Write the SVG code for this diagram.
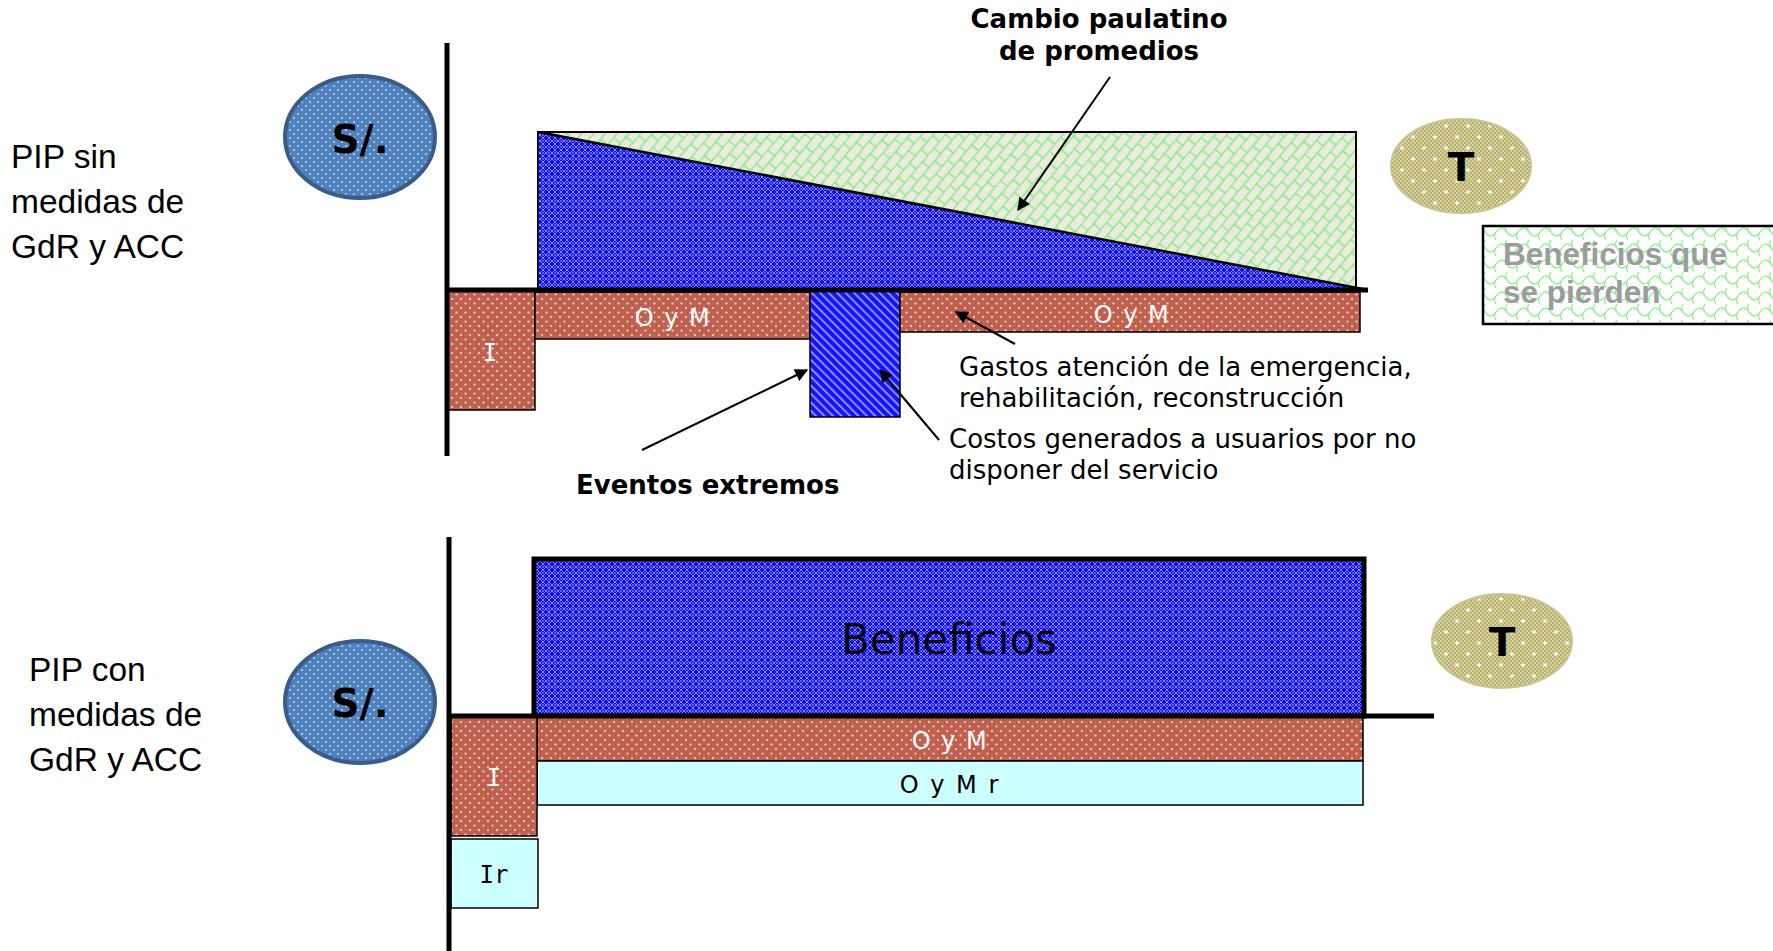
<svg xmlns="http://www.w3.org/2000/svg" width="1773" height="951" viewBox="0 0 1773 951">
<style>
.side{font-family:"Liberation Sans",Arial,sans-serif;font-size:33.5px;fill:#000}
.lbl{font-family:"DejaVu Sans",Verdana,sans-serif;font-size:26px;fill:#000}
.blbl{font-family:"DejaVu Sans",Verdana,sans-serif;font-size:26px;font-weight:bold;fill:#000}
.oym{font-family:"DejaVu Sans",Verdana,sans-serif;font-size:24px;fill:#fff;letter-spacing:1.5px;text-anchor:middle}
.oymr{font-family:"DejaVu Sans",Verdana,sans-serif;font-size:24px;fill:#000;letter-spacing:2px;text-anchor:middle}
.ii{font-family:"DejaVu Sans Mono",monospace;font-size:24px;text-anchor:middle}
.sym{font-family:"DejaVu Sans",Verdana,sans-serif;font-size:39px;font-weight:bold;fill:#000;text-anchor:middle}
.axis{stroke:#000;stroke-width:5;fill:none}
.box{stroke:#000;stroke-width:1.5}
.conn{stroke:#000;stroke-width:2;fill:none;marker-end:url(#ah)}
</style>
<defs>
<marker id="ah" viewBox="0 0 10 10" refX="9" refY="5" markerWidth="7.5" markerHeight="6.5" orient="auto" markerUnits="strokeWidth">
<path d="M0,0 L10,5 L0,10 z" fill="#000"/>
</marker>
<pattern id="pSol" width="8" height="8" patternUnits="userSpaceOnUse">
<rect width="8" height="8" fill="#4f81bd"/>
<circle cx="2" cy="2" r="1" fill="#c6d7ee"/>
<circle cx="6" cy="6" r="1" fill="#c6d7ee"/>
</pattern>
<pattern id="pBrown" width="9" height="9" patternUnits="userSpaceOnUse">
<rect width="9" height="9" fill="#c0614f"/>
<circle cx="2" cy="2" r="1.1" fill="#f6ddd6"/>
<circle cx="6.5" cy="6.5" r="1.1" fill="#f6ddd6"/>
</pattern>
<pattern id="pBlue" width="6" height="6" patternUnits="userSpaceOnUse">
<rect width="6" height="6" fill="#0a0aff"/>
<path d="M0,3 L3,0 L6,3 L3,6 Z" fill="none" stroke="#9a9aff" stroke-width="0.9"/>
<circle cx="3" cy="3" r="0.7" fill="#e0e0ff"/>
</pattern>
<pattern id="pStripe" width="6" height="6" patternUnits="userSpaceOnUse" patternTransform="rotate(-45)">
<rect width="6" height="6" fill="#1414ff"/>
<rect x="0" y="0" width="1.6" height="6" fill="#a8a8ff"/>
</pattern>
<pattern id="pBrick" width="18" height="18" patternUnits="userSpaceOnUse" patternTransform="rotate(-50)">
<rect width="18" height="18" fill="#eceadf"/>
<path d="M0,0.5 H18 M0,9.5 H18 M0.5,0 V9.5 M9.5,9.5 V18" stroke="#7eee7e" stroke-width="1.5" fill="none"/>
</pattern>
<pattern id="pWave" width="22" height="16" patternUnits="userSpaceOnUse">
<rect width="22" height="16" fill="#fff"/>
<path d="M0,8 Q5.5,0 11,8 Q16.5,16 22,8" stroke="#98f098" stroke-width="1.4" fill="none"/>
<path d="M11,0 Q8,4 11,8 M0,8 Q-3,12 0,16 M22,8 Q19,12 22,16" stroke="#98f098" stroke-width="1.4" fill="none"/>
</pattern>
<pattern id="pOlive" width="4" height="4" patternUnits="userSpaceOnUse">
<rect width="4" height="4" fill="#b7b06c"/>
<rect width="2" height="2" fill="#d7d2a2"/>
<rect x="2" y="2" width="2" height="2" fill="#d7d2a2"/>
</pattern>
<pattern id="pOliveDots" width="22" height="22" patternUnits="userSpaceOnUse">
<rect width="22" height="22" fill="none"/>
<path d="M5,3 V7 M3,5 H7 M16,14 V18 M14,16 H18" stroke="#fff" stroke-width="1.3"/>
</pattern>
</defs>

<g id="label-top">
<text class="side" x="11" y="168">PIP sin</text>
<text class="side" x="11" y="213">medidas de</text>
<text class="side" x="11" y="258">GdR y ACC</text>
</g>
<g id="label-bottom">
<text class="side" x="29" y="681">PIP con</text>
<text class="side" x="29" y="726">medidas de</text>
<text class="side" x="29" y="771">GdR y ACC</text>
</g>

<g id="sol-top">
<ellipse cx="360" cy="137" rx="75" ry="61" fill="url(#pSol)" stroke="#385d8a" stroke-width="4"/>
<text class="sym" x="360" y="153">S/.</text>
</g>
<g id="sol-bottom">
<ellipse cx="360" cy="702" rx="75" ry="61" fill="url(#pSol)" stroke="#385d8a" stroke-width="4"/>
<text class="sym" x="360" y="717">S/.</text>
</g>

<g id="lost-area">
<rect x="538" y="132" width="818" height="158" fill="url(#pBrick)" stroke="#000" stroke-width="2"/>
</g>
<g id="benefit-triangle">
<polygon points="538,132 538,290 1368,290" fill="url(#pBlue)"/>
<line x1="538" y1="132" x2="1368" y2="290" stroke="#000" stroke-width="2.5"/>
<line x1="538" y1="132" x2="538" y2="290" stroke="#000" stroke-width="1.5"/>
</g>

<g id="inv-top">
<rect class="box" x="446" y="290" width="89" height="120" fill="url(#pBrown)"/>
<text class="ii" x="490" y="361" fill="#fff">I</text>
</g>
<g id="oym-top-1">
<rect class="box" x="535" y="292" width="275" height="47" fill="url(#pBrown)"/>
<text class="oym" x="673" y="326">O y M</text>
</g>
<g id="event-box">
<rect class="box" x="810" y="290" width="90" height="127" fill="url(#pStripe)"/>
</g>
<g id="oym-top-2">
<rect class="box" x="900" y="292" width="460" height="40" fill="url(#pBrown)"/>
<text class="oym" x="1132" y="323">O y M</text>
</g>

<g id="axes-top">
<line class="axis" x1="447" y1="43" x2="447" y2="456"/>
<line class="axis" x1="445" y1="290" x2="1368" y2="290"/>
</g>

<g id="t-top">
<ellipse cx="1461" cy="166" rx="70" ry="47" fill="url(#pOlive)" stroke="#c9c48f" stroke-width="2"/>
<ellipse cx="1461" cy="166" rx="68" ry="45" fill="url(#pOliveDots)"/>
<text class="sym" x="1461" y="181">T</text>
</g>

<g id="legend-lost">
<rect x="1483" y="226" width="300" height="98" fill="url(#pWave)" stroke="#000" stroke-width="2.5"/>
<text x="1503" y="265" font-family="Liberation Sans, Arial, sans-serif" font-size="31.5" font-weight="bold" fill="#9c9c9c">Beneficios que</text>
<text x="1503" y="303" font-family="Liberation Sans, Arial, sans-serif" font-size="31.5" font-weight="bold" fill="#9c9c9c">se pierden</text>
</g>

<g id="note-cambio">
<text class="blbl" x="1099" y="28" text-anchor="middle">Cambio paulatino</text>
<text class="blbl" x="1099" y="60" text-anchor="middle">de promedios</text>
</g>
<g id="note-gastos">
<text class="lbl" x="959" y="376">Gastos atención de la emergencia,</text>
<text class="lbl" x="959" y="407">rehabilitación, reconstrucción</text>
</g>
<g id="note-costos">
<text class="lbl" x="949" y="448">Costos generados a usuarios por no</text>
<text class="lbl" x="949" y="479">disponer del servicio</text>
</g>
<g id="note-eventos">
<text class="blbl" x="576" y="494">Eventos extremos</text>
</g>

<g id="benefits-bottom">
<rect x="534" y="559" width="830" height="157" fill="url(#pBlue)" stroke="#000" stroke-width="5"/>
<text x="949" y="654" font-family="DejaVu Sans, Verdana, sans-serif" font-size="42" fill="#000" text-anchor="middle">Beneficios</text>
</g>
<g id="oym-bottom">
<rect class="box" x="537" y="717" width="826" height="44" fill="url(#pBrown)"/>
<text class="oym" x="950" y="749">O y M</text>
</g>
<g id="oymr-bottom">
<rect class="box" x="537" y="761" width="826" height="44" fill="#ccffff"/>
<text class="oymr" x="950" y="793">O y M r</text>
</g>
<g id="inv-bottom">
<rect class="box" x="451" y="716" width="86" height="120" fill="url(#pBrown)"/>
<text class="ii" x="494" y="786" fill="#fff">I</text>
</g>
<g id="invr-bottom">
<rect class="box" x="451" y="839" width="87" height="69" fill="#ccffff"/>
<text class="ii" x="494" y="883" fill="#000">Ir</text>
</g>

<g id="axes-bottom">
<line class="axis" x1="449" y1="537" x2="449" y2="951"/>
<line class="axis" x1="447" y1="716" x2="1434" y2="716"/>
</g>

<g id="t-bottom">
<ellipse cx="1502" cy="641" rx="70" ry="47" fill="url(#pOlive)" stroke="#c9c48f" stroke-width="2"/>
<ellipse cx="1502" cy="641" rx="68" ry="45" fill="url(#pOliveDots)"/>
<text class="sym" x="1502" y="656">T</text>
</g>

<g id="connectors">
<line class="conn" x1="1110" y1="77" x2="1018" y2="210"/>
<line class="conn" x1="1015" y1="344" x2="956" y2="312"/>
<line class="conn" x1="642" y1="450" x2="807" y2="370"/>
<line class="conn" x1="939" y1="440" x2="880" y2="370"/>
</g>
</svg>
